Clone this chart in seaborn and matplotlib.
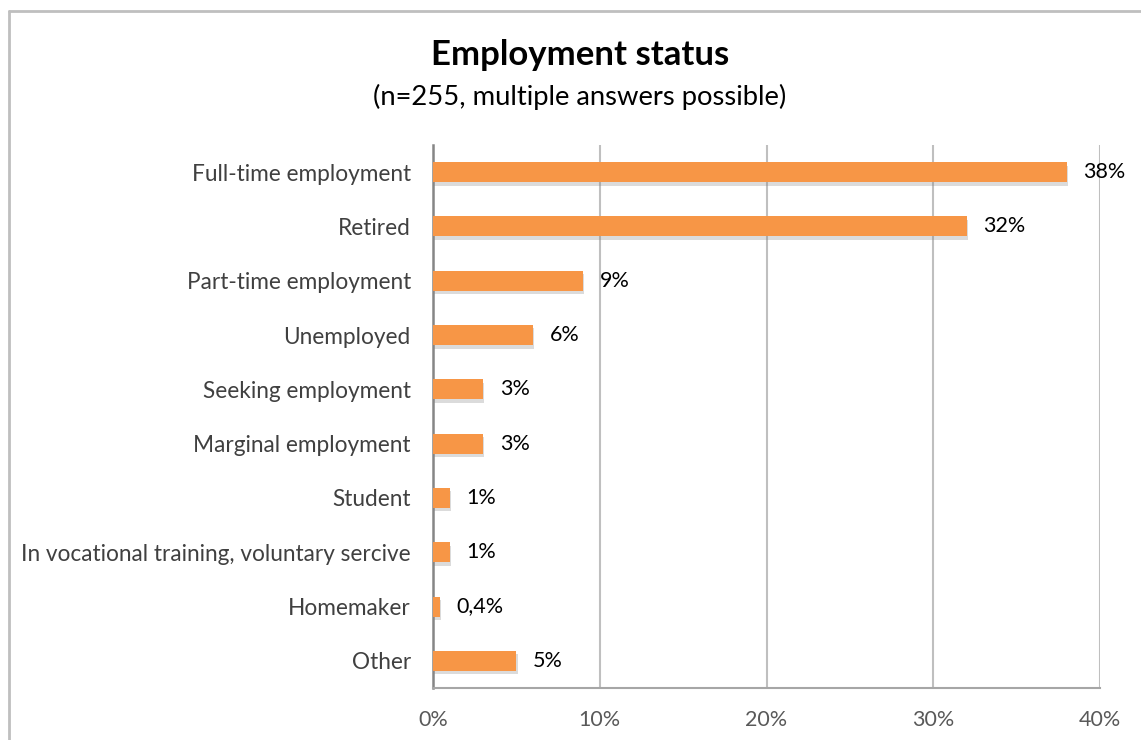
import matplotlib
matplotlib.use("Agg")
import matplotlib.pyplot as plt
import matplotlib.patheffects as pe
from matplotlib.lines import Line2D
import seaborn as sns
import pandas as pd

categories = [
    "Full-time employment",
    "Retired",
    "Part-time employment",
    "Unemployed",
    "Seeking employment",
    "Marginal employment",
    "Student",
    "In vocational training, voluntary sercive",
    "Homemaker",
    "Other",
]
shares = [38, 32, 9, 6, 3, 3, 1, 1, 0.4, 5]
x_ticks = [0, 10, 20, 30, 40]

df = pd.DataFrame({"status": categories, "share": shares})

sns.set_theme(style="white")
plt.rcParams["font.family"] = ["Lato", "DejaVu Sans"]

fig = plt.figure(figsize=(11.41, 7.40), dpi=100)
ax = fig.add_axes([433 / 1141, 52 / 740, (1100 - 433) / 1141, (688 - 145) / 740])

orange = "#F79646"
sns.barplot(data=df, y="status", x="share", orient="h", color=orange,
            saturation=1, width=0.37, ax=ax, zorder=3)

shadow = [pe.SimplePatchShadow(offset=(1, -2.5), shadow_rgbFace="#808080", alpha=0.28),
          pe.Normal()]
for bar in ax.patches:
    bar.set_path_effects(shadow)
    bar.set_edgecolor("none")

for i, v in enumerate(shares):
    label = f"{v:g}%".replace(".", ",")
    ax.annotate(label, xy=(v, i), xytext=(12, 0), textcoords="offset points",
                ha="left", va="center", fontsize=15.5, color="#000000")

ax.set_xlim(0, 40)
ax.set_xticks(x_ticks)
ax.set_xticklabels([f"{t}%" for t in x_ticks], fontsize=15.5, color="#595959")
ax.tick_params(axis="x", length=0, pad=16)
ax.tick_params(axis="y", length=0, pad=16, labelsize=16.3, labelcolor="#404040")
ax.set_xlabel("")
ax.set_ylabel("")

ax.xaxis.grid(True, color="#BFBFBF", linewidth=1.5, zorder=0)
ax.set_axisbelow(True)
for side in ["top", "right"]:
    ax.spines[side].set_visible(False)
ax.spines["left"].set_color("#868686")
ax.spines["left"].set_linewidth(1.8)
ax.spines["bottom"].set_color("#A6A6A6")
ax.spines["bottom"].set_linewidth(1.5)

fig.text(580 / 1141, 1 - 55 / 740, "Employment status", ha="center", va="center",
         fontsize=25, fontweight="bold", color="#000000")
fig.text(580 / 1141, 1 - 97 / 740, "(n=255, multiple answers possible)", ha="center",
         va="center", fontsize=19.7, color="#000000")

# outer chart border (left and top edges)
fig.add_artist(Line2D([8.5 / 1141, 8.5 / 1141], [0, 1 - 10.5 / 740],
                      color="#BFBFBF", linewidth=2, transform=fig.transFigure))
fig.add_artist(Line2D([8.5 / 1141, 1], [1 - 10.5 / 740, 1 - 10.5 / 740],
                      color="#BFBFBF", linewidth=2, transform=fig.transFigure))

fig.savefig("out.png", dpi=100, facecolor="white")
